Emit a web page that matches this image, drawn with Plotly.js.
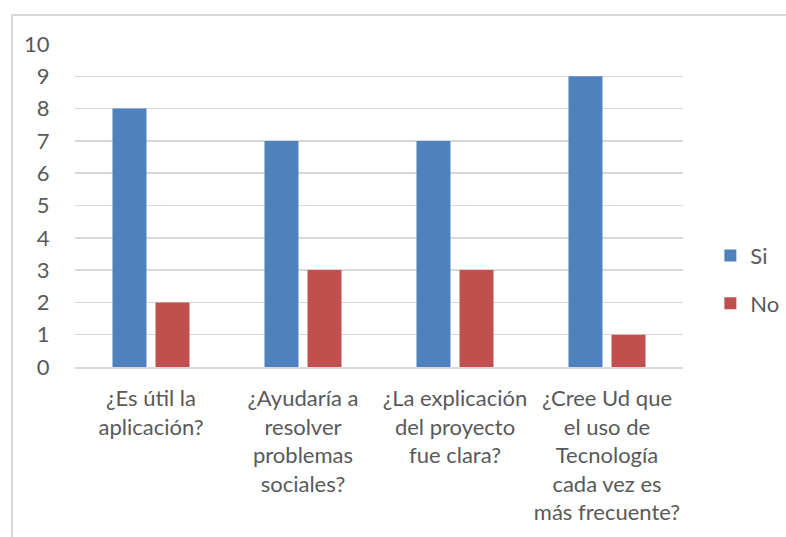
<!DOCTYPE html>
<html>
<head>
<meta charset="utf-8">
<script src="https://cdn.plot.ly/plotly-3.0.1.min.js"></script>
<style>
html,body{margin:0;padding:0;background:#fff;}
#frame{position:absolute;left:11px;top:14px;width:800px;height:600px;border:2px solid #d9d9d9;box-sizing:border-box;}
#chart{position:absolute;left:0;top:0;width:786px;height:537px;}
</style>
</head>
<body>
<div id="frame"></div>
<div id="chart"></div>
<script>
const categories = [
  "¿Es útil la<br>aplicación?",
  "¿Ayudaría a<br>resolver<br>problemas<br>sociales?",
  "¿La explicación<br>del proyecto<br>fue clara?",
  "¿Cree Ud que<br>el uso de<br>Tecnología<br>cada vez es<br>más frecuente?"
];
const siValues = [8, 7, 7, 9];
const noValues = [2, 3, 3, 1];
const seriesNames = ["Si", "No"];

const fontFam = "Lato, 'Open Sans', sans-serif";
const textColor = "#595959";

const data = [
  {type: "bar", x: categories, y: siValues, name: seriesNames[0], legendgroup: "a",
   marker: {color: "#4F81BD"}},
  {type: "bar", x: categories, y: noValues, name: seriesNames[1], legendgroup: "b",
   marker: {color: "#C0504D"}}
];

const layout = {
  width: 786, height: 537,
  paper_bgcolor: "rgba(0,0,0,0)", plot_bgcolor: "rgba(0,0,0,0)",
  margin: {l: 75, r: 103, t: 44, b: 170, autoexpand: false},
  barmode: "group", bargap: 0.434, bargroupgap: 0.209,
  font: {family: fontFam, size: 22, color: textColor},
  xaxis: {
    showgrid: false, showline: true, linecolor: "#d9d9d9", linewidth: 1.5,
    ticks: "outside", tickcolor: "rgba(0,0,0,0)", ticklen: 11,
    tickfont: {family: fontFam, size: 22, color: textColor}
  },
  yaxis: {
    range: [0, 10], dtick: 1, showgrid: true, gridcolor: "#d9d9d9", gridwidth: 1.5,
    zeroline: false, showline: false,
    ticks: "outside", tickcolor: "rgba(0,0,0,0)", ticklen: 20,
    tickfont: {family: fontFam, size: 22, color: textColor}
  },
  showlegend: true,
  legend: {x: 1.045, xanchor: "left", y: 0.27, yanchor: "middle",
           tracegroupgap: 16, font: {family: fontFam, size: 22, color: textColor},
           itemwidth: 30, bgcolor: "rgba(0,0,0,0)"}
};

Plotly.newPlot("chart", data, layout, {displayModeBar: false, staticPlot: true});
</script>
</body>
</html>
